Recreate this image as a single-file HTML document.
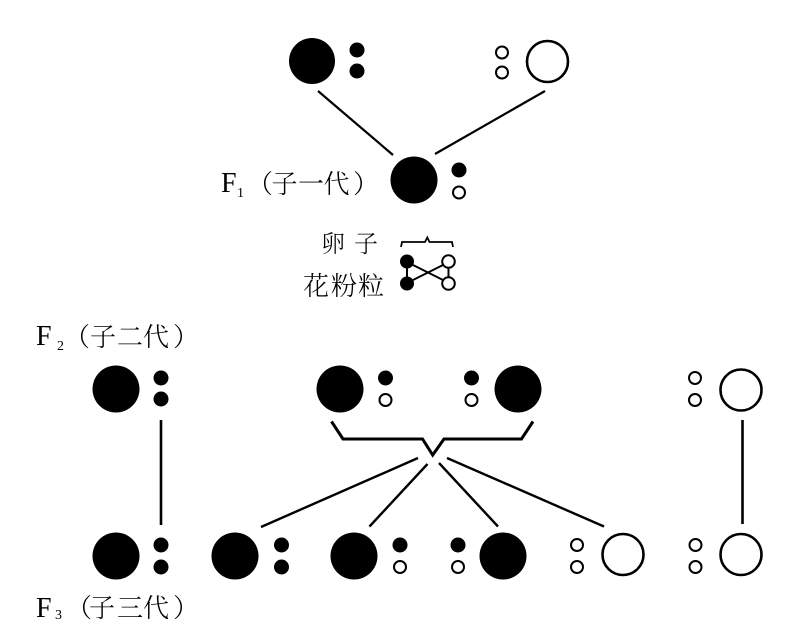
<!DOCTYPE html>
<html><head><meta charset="utf-8"><style>
html,body{margin:0;padding:0;background:#fff;}
svg{display:block;}
.cjk{font-family:"Liberation Serif","Noto Serif CJK SC",serif;fill:#000;font-weight:300;}
.lat{font-family:"Liberation Serif",serif;fill:#000;}
</style></head><body>
<svg width="791" height="637" viewBox="0 0 791 637" xmlns="http://www.w3.org/2000/svg">
<g fill="#000" stroke="none">
  <circle cx="312" cy="61" r="23"/>
  <circle cx="357" cy="50" r="7.5"/>
  <circle cx="357" cy="71" r="7.5"/>
  <circle cx="414" cy="180" r="23.5"/>
  <circle cx="459" cy="170" r="7.5"/>
  <circle cx="407" cy="261.5" r="7"/>
  <circle cx="407" cy="283.5" r="7"/>
  <circle cx="116" cy="389" r="23.5"/>
  <circle cx="161" cy="378" r="7.5"/>
  <circle cx="161" cy="399" r="7.5"/>
  <circle cx="340" cy="389" r="23.5"/>
  <circle cx="385.5" cy="378" r="7.5"/>
  <circle cx="471.5" cy="378" r="7.5"/>
  <circle cx="518" cy="389" r="23.5"/>
  <circle cx="116" cy="556" r="23.5"/>
  <circle cx="161" cy="545" r="7.5"/>
  <circle cx="161" cy="567" r="7.5"/>
  <circle cx="235" cy="556" r="23.5"/>
  <circle cx="281.5" cy="545" r="7.5"/>
  <circle cx="281.5" cy="567" r="7.5"/>
  <circle cx="354" cy="556" r="23.5"/>
  <circle cx="400" cy="545" r="7.5"/>
  <circle cx="458" cy="545" r="7.5"/>
  <circle cx="503" cy="556" r="23.5"/>
</g>
<g fill="none" stroke="#000">
  <circle cx="547.5" cy="61.5" r="20.5" stroke-width="2.6"/>
  <circle cx="741" cy="390" r="20.5" stroke-width="2.6"/>
  <circle cx="623" cy="554.5" r="20.5" stroke-width="2.6"/>
  <circle cx="741" cy="554.5" r="20.5" stroke-width="2.6"/>
  <g stroke-width="2">
    <circle cx="502" cy="52.5" r="6"/>
    <circle cx="502" cy="72.5" r="6"/>
    <circle cx="459" cy="192.5" r="6"/>
    <circle cx="448.5" cy="261.5" r="6.3"/>
    <circle cx="448.5" cy="283.5" r="6.3"/>
    <circle cx="385.5" cy="400" r="6"/>
    <circle cx="471.5" cy="400" r="6"/>
    <circle cx="695" cy="378" r="6"/>
    <circle cx="695" cy="400" r="6"/>
    <circle cx="400" cy="567" r="6"/>
    <circle cx="458" cy="567" r="6"/>
    <circle cx="577" cy="545" r="6"/>
    <circle cx="577" cy="567" r="6"/>
    <circle cx="695.5" cy="545" r="6"/>
    <circle cx="695.5" cy="567" r="6"/>
  </g>
  <line x1="318" y1="91" x2="393" y2="155" stroke-width="2.2"/>
  <line x1="545" y1="91" x2="435" y2="154" stroke-width="2.2"/>
  <path d="M401 247 L402 242 L425 242 L427.3 237.5 L429.5 242 L452 242 L453 247" stroke-width="1.8" stroke-linejoin="miter"/>
  <line x1="407" y1="261" x2="407" y2="284" stroke-width="2"/>
  <line x1="448.5" y1="267" x2="448.5" y2="278" stroke-width="2"/>
  <line x1="413" y1="265" x2="443" y2="280" stroke-width="2"/>
  <line x1="413" y1="280" x2="443" y2="265" stroke-width="2"/>
  <line x1="161" y1="420" x2="161" y2="525" stroke-width="2.6"/>
  <line x1="742.5" y1="420" x2="742.5" y2="524" stroke-width="2.6"/>
  <path d="M331.5 421.5 L343 439 L422.5 439 L432.7 455 L444 439 L521.5 439 L533 421.5" stroke-width="3" stroke-linejoin="miter"/>
  <g stroke-width="2.4">
    <line x1="418" y1="458" x2="261" y2="527"/>
    <line x1="427.5" y1="464" x2="369.5" y2="526.5"/>
    <line x1="439" y1="463" x2="498" y2="526.5"/>
    <line x1="447" y1="458" x2="604" y2="526.5"/>
  </g>
</g>
<g>
  <text class="lat" x="221" y="192" font-size="28">F</text>
  <text class="lat" x="237" y="197" font-size="14">1</text>
  <text class="cjk" x="247" y="193" font-size="26">（</text>
  <text class="cjk" x="284.5" y="193" font-size="26" text-anchor="middle">子</text>
  <text class="cjk" x="311" y="193" font-size="26" text-anchor="middle">一</text>
  <text class="cjk" x="336.5" y="193" font-size="26" text-anchor="middle">代</text>
  <text class="cjk" x="353" y="193" font-size="26">）</text>

  <text class="cjk" x="333" y="252" font-size="24" text-anchor="middle">卵</text>
  <text class="cjk" x="366" y="252" font-size="24" text-anchor="middle">子</text>
  <text class="cjk" x="316" y="295" font-size="26" text-anchor="middle">花</text>
  <text class="cjk" x="344" y="295" font-size="26" text-anchor="middle">粉</text>
  <text class="cjk" x="371" y="295" font-size="26" text-anchor="middle">粒</text>

  <text class="lat" x="36" y="345" font-size="28">F</text>
  <text class="lat" x="57" y="350" font-size="14">2</text>
  <text class="cjk" x="64" y="346" font-size="26">（</text>
  <text class="cjk" x="103" y="346" font-size="26" text-anchor="middle">子</text>
  <text class="cjk" x="130" y="346" font-size="26" text-anchor="middle">二</text>
  <text class="cjk" x="156" y="346" font-size="26" text-anchor="middle">代</text>
  <text class="cjk" x="173" y="346" font-size="26">）</text>

  <text class="lat" x="36" y="617" font-size="28">F</text>
  <text class="lat" x="55" y="619" font-size="14">3</text>
  <text class="cjk" x="66" y="617" font-size="26">（</text>
  <text class="cjk" x="102" y="617" font-size="26" text-anchor="middle">子</text>
  <text class="cjk" x="130" y="617" font-size="26" text-anchor="middle">三</text>
  <text class="cjk" x="156" y="617" font-size="26" text-anchor="middle">代</text>
  <text class="cjk" x="173" y="617" font-size="26">）</text>
</g>
</svg>
</body></html>
